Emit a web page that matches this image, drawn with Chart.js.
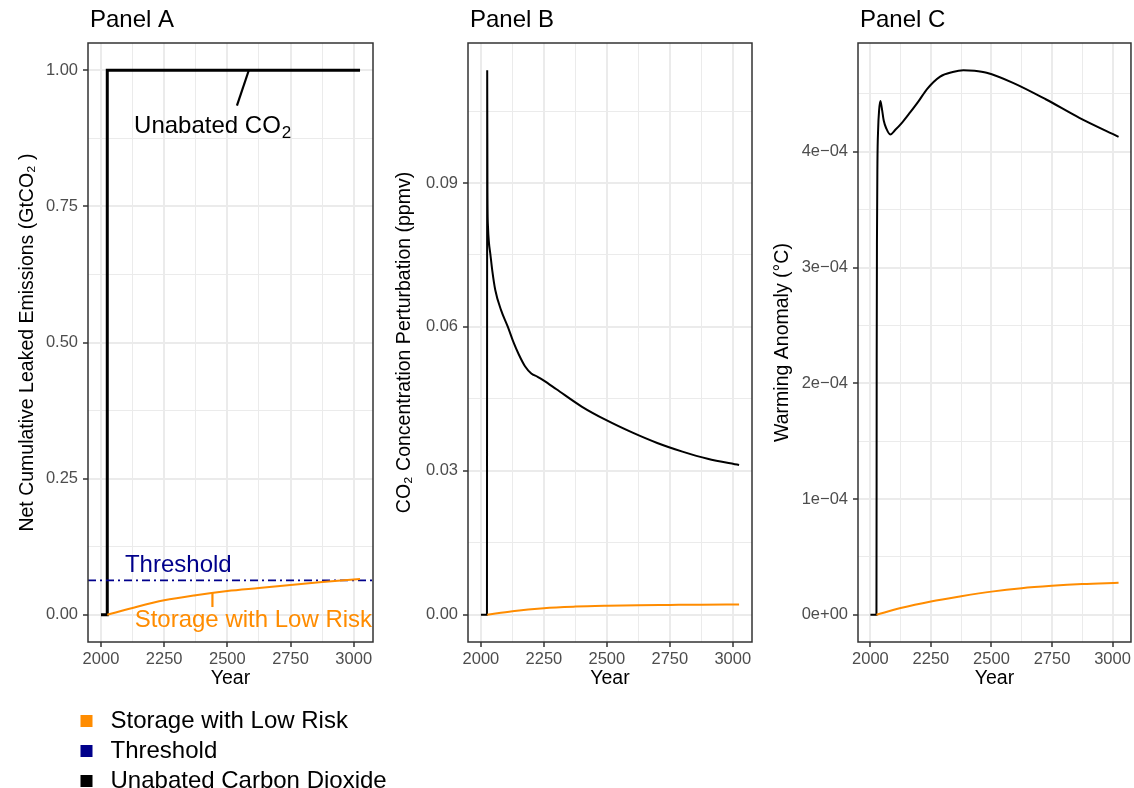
<!DOCTYPE html>
<html><head><meta charset="utf-8">
<script src="https://cdn.jsdelivr.net/npm/chart.js@4.4.1/dist/chart.umd.min.js"></script>
<style>
html,body{margin:0;padding:0;background:#fff;}
#wrap{position:relative;width:1134px;height:788px;overflow:hidden;background:#fff;}
.panel{position:absolute;top:0;height:788px;}
</style></head><body>
<div id="wrap">
<div class="panel" style="left:0;width:420px;z-index:1"><canvas id="cA"></canvas></div>
<div class="panel" style="left:380px;width:380px;z-index:2"><canvas id="cB"></canvas></div>
<div class="panel" style="left:760px;width:374px;z-index:3"><canvas id="cC"></canvas></div>
</div>
<script>
// ---------------- DATA ----------------
const yearMin = 2000, yearMax = 3025;
const xMajorTicks = [2000, 2250, 2500, 2750, 3000];

// Panel A: net cumulative leaked emissions (GtCO2)
const aUnabatedYears  = [2000, 2024, 2025, 3025];
const aUnabatedValues = [0, 0, 1, 1];
const aStorageYears   = [2025, 2125, 2250, 2375, 2500, 2625, 2750, 2875, 3025];
const aStorageValues  = [0, 0.0125, 0.0265, 0.036, 0.0435, 0.049, 0.0545, 0.060, 0.0656];
const thresholdValue  = 0.063;
const aYTicks  = [0, 0.25, 0.5, 0.75, 1];
const aYLabels = ['0.00', '0.25', '0.50', '0.75', '1.00'];

// Panel B: CO2 concentration perturbation (ppmv)
const bUnabatedYears  = [2000, 2024, 2025, 2026, 2028, 2032, 2037, 2045, 2057, 2080, 2107, 2130, 2150, 2175, 2200, 2225, 2250, 2300, 2400, 2500, 2600, 2700, 2800, 2900, 3025];
const bUnabatedValues = [0, 0, 0.1135, 0.088, 0.081, 0.0775, 0.0754, 0.0718, 0.0677, 0.0635, 0.060, 0.0567, 0.0543, 0.0518, 0.0503, 0.0496, 0.0488, 0.0470, 0.0434, 0.0405, 0.0380, 0.0358, 0.0340, 0.0325, 0.0312];
const bStorageYears   = [2025, 2125, 2250, 2375, 2500, 2625, 2750, 2875, 3025];
const bStorageValues  = [0, 0.00075, 0.00138, 0.0017, 0.00188, 0.0020, 0.00205, 0.0021, 0.00215];
const bYTicks  = [0, 0.03, 0.06, 0.09];
const bYLabels = ['0.00', '0.03', '0.06', '0.09'];

// Panel C: warming anomaly (°C)
const cUnabatedYears  = [2000, 2024, 2025, 2026, 2027, 2029, 2032, 2036, 2041, 2047, 2055, 2066, 2082, 2103, 2130, 2164, 2200, 2233, 2288, 2340, 2384, 2430, 2480, 2589, 2726, 2863, 3025];
const cUnabatedValues = [0, 0, 0, 2.2e-4, 3.2e-4, 3.9e-4, 4.2e-4, 4.36e-4, 4.44e-4, 4.38e-4, 4.27e-4, 4.2e-4, 4.15e-4, 4.19e-4, 4.25e-4, 4.34e-4, 4.44e-4, 4.54e-4, 4.65e-4, 4.69e-4, 4.705e-4, 4.70e-4, 4.683e-4, 4.596e-4, 4.452e-4, 4.294e-4, 4.13e-4];
const cStorageYears   = [2025, 2125, 2250, 2375, 2500, 2625, 2750, 2875, 3025];
const cStorageValues  = [0, 5.8e-6, 1.15e-5, 1.6e-5, 2.0e-5, 2.3e-5, 2.5e-5, 2.65e-5, 2.77e-5];
const cYTicks  = [0, 1e-4, 2e-4, 3e-4, 4e-4];
const cYLabels = ['0e+00', '1e\u221204', '2e\u221204', '3e\u221204', '4e\u221204'];

const panelTitles = ['Panel A', 'Panel B', 'Panel C'];
const legendNames = ['Storage with Low Risk', 'Threshold', 'Unabated Carbon Dioxide'];

// ---------------- STYLE ----------------
const FONT = "'Liberation Sans', Arial, Helvetica, sans-serif";
const BIG = 24, TICK = 16.5, AXT = 19.5;
const ORANGE = '#FF8C00', NAVY = '#00008B', BLACK = '#000000';
const legendColors = [ORANGE, NAVY, BLACK];
Chart.defaults.font.family = FONT;
Chart.defaults.color = '#4D4D4D';

function zip(xs, ys) { return xs.map((x, i) => ({ x: x, y: ys[i] })); }
function expand(lo, hi) { const p = 0.05 * (hi - lo); return [lo - p, hi + p]; }
function withMinors(majors, lo, hi) {
  const step = majors[1] - majors[0]; const out = [];
  majors.forEach((m, i) => {
    if (i === 0 && m - step / 2 >= lo) out.push(m - step / 2);
    out.push(m);
    if (m + step / 2 <= hi) out.push(m + step / 2);
  });
  return out;
}
function majorIndex(majors, v) {
  const step = majors[1] - majors[0];
  return majors.findIndex(m => Math.abs(m - v) < step * 1e-6);
}
function gridOpts(majors) {
  return {
    color: '#EBEBEB',
    lineWidth: c => (c.tick && majorIndex(majors, c.tick.value) >= 0) ? 2 : 1,
    tickLength: 5,
    tickColor: c => (c.tick && majorIndex(majors, c.tick.value) >= 0) ? '#333333' : 'rgba(0,0,0,0)',
    tickWidth: 1.5
  };
}
function xScale() {
  const [lo, hi] = expand(yearMin, yearMax);
  const all = withMinors(xMajorTicks, lo, hi);
  return {
    type: 'linear', min: lo, max: hi,
    afterBuildTicks: s => { s.ticks = all.map(v => ({ value: v })); },
    afterFit: s => { s.height = 49; },
    ticks: { autoSkip: false, maxRotation: 0, minRotation: 0, padding: 3, font: { size: TICK }, color: '#4D4D4D',
      callback: v => majorIndex(xMajorTicks, v) >= 0 ? String(v) : '' },
    grid: gridOpts(xMajorTicks),
    border: { display: false },
    title: { display: true, text: 'Year', color: '#000', font: { size: AXT }, padding: { top: 0, bottom: 0.6 } }
  };
}
function yScale(dataMax, majors, labels, width, titleText, titleCenter) {
  const [lo, hi] = expand(0, dataMax);
  const all = withMinors(majors, lo, hi);
  return {
    type: 'linear', min: lo, max: hi,
    afterBuildTicks: s => { s.ticks = all.map(v => ({ value: v })); },
    afterFit: s => { s.width = width; },
    ticks: { autoSkip: false, padding: 5, font: { size: TICK }, color: '#4D4D4D',
      callback: v => { const i = majorIndex(majors, v); return i >= 0 ? labels[i] : ''; } },
    grid: gridOpts(majors),
    border: { display: false },
    title: { display: true, text: titleText, color: '#000', font: { size: AXT }, padding: { top: titleCenter - 11.7, bottom: 0 } }
  };
}
function titlePlugin(text) {
  return { id: 'panelTitle', afterDraw(chart) {
    const ctx = chart.ctx; ctx.save();
    ctx.font = BIG + 'px ' + FONT; ctx.fillStyle = '#000'; ctx.textBaseline = 'middle'; ctx.textAlign = 'left';
    ctx.fillText(text, chart.chartArea.left + 2, 20); ctx.restore();
  } };
}
const framePlugin = { id: 'frame', afterDatasetsDraw(chart) {
  const a = chart.chartArea, ctx = chart.ctx; ctx.save();
  ctx.strokeStyle = '#333333'; ctx.lineWidth = 1.5;
  ctx.strokeRect(a.left, a.top, a.right - a.left, a.bottom - a.top); ctx.restore();
} };
function line(data, color, width, extra) {
  return Object.assign({ data: data, borderColor: color, backgroundColor: color, borderWidth: width,
    pointRadius: 0, fill: false, cubicInterpolationMode: 'monotone' }, extra || {});
}
function baseOptions(xs, ys, plugins, pad) {
  return { responsive: true, maintainAspectRatio: false, animation: false,
    layout: { padding: pad },
    scales: { x: xs, y: ys },
    plugins: Object.assign({ legend: { display: false }, tooltip: { enabled: false }, title: { display: false } }, plugins || {}) };
}

// ---------------- PANEL A ----------------
const aLabels = [
  { text: 'Unabated CO', sub: '2', x: 2440, y: 0.896, color: BLACK },
  { text: 'Threshold', x: 2306, y: 0.0914, color: NAVY },
  { text: 'Storage with Low Risk', x: 2603, y: -0.0096, color: ORANGE }
];
const aLeaders = [
  { x1: 2538, y1: 0.935, x2: 2585, y2: 1.0, color: BLACK },
  { x1: 2441, y1: 0.0142, x2: 2441, y2: 0.0399, color: ORANGE }
];
const annotPlugin = { id: 'annot', afterDraw(chart) {
  const ctx = chart.ctx, x = chart.scales.x, y = chart.scales.y; ctx.save();
  aLeaders.forEach(l => {
    ctx.strokeStyle = l.color; ctx.lineWidth = 2.2; ctx.beginPath();
    ctx.moveTo(x.getPixelForValue(l.x1), y.getPixelForValue(l.y1));
    ctx.lineTo(x.getPixelForValue(l.x2), y.getPixelForValue(l.y2)); ctx.stroke();
  });
  ctx.textBaseline = 'middle'; ctx.textAlign = 'left';
  aLabels.forEach(lb => {
    ctx.font = BIG + 'px ' + FONT;
    const mw = ctx.measureText(lb.text).width; let sw = 0;
    if (lb.sub) { ctx.font = '17px ' + FONT; sw = ctx.measureText(lb.sub).width; }
    const px = x.getPixelForValue(lb.x), py = y.getPixelForValue(lb.y);
    const start = px - (mw + sw) / 2;
    ctx.fillStyle = lb.color; ctx.font = BIG + 'px ' + FONT; ctx.fillText(lb.text, start, py);
    if (lb.sub) { ctx.font = '17px ' + FONT; ctx.fillText(lb.sub, start + mw + 1, py + 6); }
  });
  ctx.restore();
} };
const legendPosPlugin = { id: 'legendPos', afterLayout(chart) {
  const lg = chart.legend;
  if (lg) { lg.left = 68.5; lg.right = chart.width; lg.top = 703; lg.bottom = chart.height; }
} };
const xA = xScale();
const [aLo, aHi] = [xA.min, xA.max];
new Chart(document.getElementById('cA'), {
  type: 'line',
  data: { datasets: [
    line(zip(aStorageYears, aStorageValues), ORANGE, 2),
    line([{ x: aLo, y: thresholdValue }, { x: aHi, y: thresholdValue }], NAVY, 1.8, { borderDash: [8, 4, 2, 4], cubicInterpolationMode: 'default', tension: 0 }),
    line(zip(aUnabatedYears, aUnabatedValues), BLACK, 3, { cubicInterpolationMode: 'default', tension: 0 })
  ] },
  options: baseOptions(xA, yScale(1, aYTicks, aYLabels, 88, 'Net Cumulative Leaked Emissions (GtCO\u2082 )', 28),
    { legend: { display: true, position: 'bottom', align: 'start', maxHeight: 97,
      labels: { usePointStyle: true, pointStyle: 'rect', boxWidth: BIG, boxHeight: 12, padding: 6,
        font: { size: BIG }, color: '#000',
        generateLabels: () => legendNames.map((t, i) => ({ text: t, fillStyle: legendColors[i], strokeStyle: legendColors[i],
          lineWidth: 0, pointStyle: 'rect', hidden: false, fontColor: '#000', datasetIndex: i })) } } },
    { top: 43, right: 47, bottom: 0, left: 0 }),
  plugins: [titlePlugin(panelTitles[0]), framePlugin, annotPlugin, legendPosPlugin]
});

// ---------------- PANEL B ----------------
new Chart(document.getElementById('cB'), {
  type: 'line',
  data: { datasets: [
    line(zip(bStorageYears, bStorageValues), ORANGE, 2),
    line(zip(bUnabatedYears, bUnabatedValues), BLACK, 2)
  ] },
  options: baseOptions(xScale(), yScale(0.1135, bYTicks, bYLabels, 88, 'CO\u2082 Concentration Perturbation (ppmv)', 25), null,
    { top: 43, right: 8, bottom: 97, left: 0 }),
  plugins: [titlePlugin(panelTitles[1]), framePlugin]
});

// ---------------- PANEL C ----------------
new Chart(document.getElementById('cC'), {
  type: 'line',
  data: { datasets: [
    line(zip(cStorageYears, cStorageValues), ORANGE, 2),
    line(zip(cUnabatedYears, cUnabatedValues), BLACK, 2)
  ] },
  options: baseOptions(xScale(), yScale(4.705e-4, cYTicks, cYLabels, 98, 'Warming Anomaly (\u00B0C)', 23), null,
    { top: 43, right: 2, bottom: 97, left: 0 }),
  plugins: [titlePlugin(panelTitles[2]), framePlugin]
});
</script>
</body></html>
